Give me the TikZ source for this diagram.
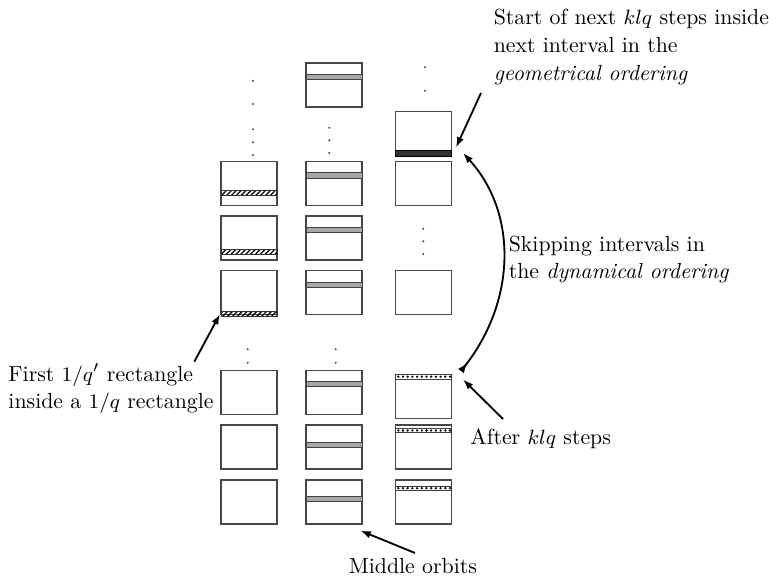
\documentclass[tikz,border=0pt]{standalone}
\usetikzlibrary{arrows.meta,patterns.meta}
\begin{document}
\begin{tikzpicture}[x=0.435pt,y=-0.435pt,
  cell/.style={draw=black!72,line width=0.55pt,minimum width=24.36pt,minimum height=19.14pt,inner sep=0pt,outer sep=0pt},
  orbit/.style={draw=black!75,fill=black!35,line width=0.4pt},
  hatch/.style={draw=black!80,line width=0.3pt,pattern={Lines[angle=45,distance=1.5pt,line width=0.55pt]}},
  dotband/.style={draw=black!75,fill=white,line width=0.35pt},
  label/.style={anchor=base west,inner sep=0pt,font=\fontsize{9.5}{11.4}\selectfont},
  pointer/.style={line width=0.8pt,-{Latex[length=4.5pt,width=3.2pt]}},
  vdot/.style={fill=black!70}]
\useasboundingbox (0,0) rectangle (782,578);

% left column
\node[cell] (L2) at (249,183.85) {};
\node[cell] (L3) at (249,238) {};
\node[cell] (L4) at (249,292.85) {};
\node[cell] (L5) at (249,392.85) {};
\node[cell] (L6) at (249,447) {};
\node[cell] (L7) at (249,502) {};
% middle column
\node[cell] (M0) at (334,85) {};
\node[cell] (M2) at (334,183.85) {};
\node[cell] (M3) at (334,238) {};
\node[cell] (M4) at (334,292.85) {};
\node[cell] (M5) at (334,392.85) {};
\node[cell] (M6) at (334,447) {};
\node[cell] (M7) at (334,502) {};
% right column
\node[cell] (R1) at (423.5,133.85) {};
\node[cell] (R2) at (423.5,183.85) {};
\node[cell] (R4) at (423.5,292.85) {};
\node[cell] (R5) at (423.5,396.5) {};
\node[cell] (R6) at (423.5,447) {};
\node[cell] (R7) at (423.5,502) {};

% first 1/q' rectangles
\draw[hatch] (221,190) rectangle (277,195);
\draw[hatch] (221,249.3) rectangle (277,254.3);
\draw[hatch] (221,311) rectangle (277,316);

% middle orbits
\foreach \t in {74,172.7,227,282} \draw[orbit] (306,\t) rectangle (362,\t+5.3);
\foreach \t in {381.3,442.3,496.5} \draw[orbit] (306,\t) rectangle (362.8,\t+5.3);

% klq steps
\draw[draw=black,fill=black!80,line width=0.35pt] (395.5,150) rectangle (451.5,156);
\foreach \t in {374.5,428.3,486} {
  \draw[dotband] (395.5,\t) rectangle (451.5,\t+4.4);
  \foreach \i in {0,...,11} \fill ({398.3+\i*4.7},\t+2.2) circle (0.55pt);
}

% vertical dots
\foreach \p in {(253,80.7),(253,104),(253,129.3),(253,142.3),(253,155),
  (329.3,127.7),(329.3,140.3),(329.3,153),
  (425,67.3),(425,90.7),
  (423.3,228.7),(423.3,241.3),(423.3,254),
  (247.7,349.3),(247.7,362.7),
  (335.7,349.3),(335.7,362.7)}
  \fill[vdot] \p circle (0.5pt);

% labels
\node[label] (st1) at (493.3,24) {Start of next $klq$ steps inside};
\node[label] (st2) at (493.3,52.5) {next interval in the};
\node[label] (st3) at (493.3,80) {\textit{geometrical ordering}};
\node[label] (sk1) at (508.3,251.7) {Skipping intervals in};
\node[label] (sk2) at (508.3,278.3) {the \textit{dynamical ordering}};
\node[label] (fi1) at (8,381.7) {First $1/q'$ rectangle};
\node[label] (fi2) at (8,408.3) {inside a $1/q$ rectangle};
\node[label] (af) at (470,444.3) {After $klq$ steps};
\node[label] (mo) at (348.3,573) {Middle orbits};

% arrow ends
\coordinate (a1) at (481,93);
\coordinate (b1) at (456,147.5);
\coordinate (a2) at (461,371);
\coordinate (b2) at (463,153);
\coordinate (a3) at (503,419);
\coordinate (b3) at (463,379.5);
\coordinate (a4) at (194.3,361.7);
\coordinate (b4) at (220,314);
\coordinate (a5) at (415,553);
\coordinate (b5) at (360.5,530.7);

\draw[pointer] (a1) -- (b1);
\draw[pointer,{Latex[reversed,length=4.5pt,width=3.2pt]}-{Latex[length=4.5pt,width=3.2pt]}] (a2) .. controls (517,300) and (517,212) .. (b2);
\draw[pointer] (a3) -- (b3);
\draw[pointer] (a4) -- (b4);
\draw[pointer] (a5) -- (b5);
\end{tikzpicture}
\end{document}
